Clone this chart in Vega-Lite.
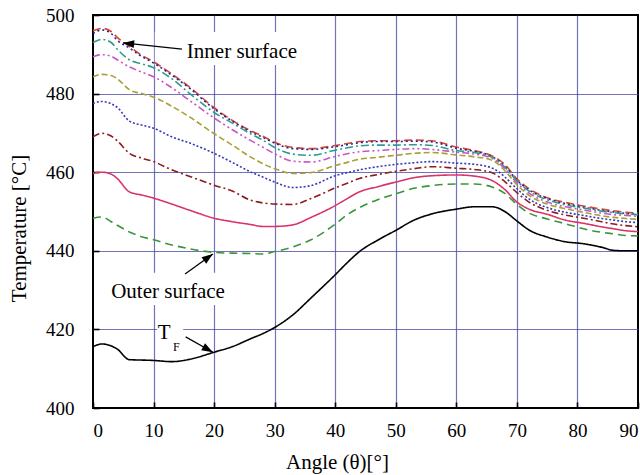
{
  "$schema": "https://vega.github.io/schema/vega-lite/v6.json",
  "width": 545,
  "height": 393,
  "autosize": {"type": "none"},
  "padding": {"left": 93, "top": 15, "right": 2, "bottom": 67},
  "background": "white",
  "config": {
    "view": {"stroke": "black", "strokeWidth": 2},
    "font": "Liberation Serif, Times New Roman, serif",
    "axis": {
      "labelFont": "Liberation Serif, Times New Roman, serif",
      "titleFont": "Liberation Serif, Times New Roman, serif",
      "labelFontSize": 19,
      "titleFontSize": 21,
      "labelColor": "black",
      "titleColor": "black",
      "titleFontWeight": "normal",
      "domain": false,
      "gridColor": "#4444a4",
      "gridWidth": 1.2
    }
  },
  "datasets": {
    "w": [
      {"x":0,"a":496.0,"b":495.3,"c":493.0,"d":489.4,"e":484.3,"f":477.5,"g":469.0,"h":459.7,"i":448.3,"j":415.6},
      {"x":1.5,"a":496.6,"b":496.2,"c":493.8,"d":489.9,"e":484.9,"f":478.0,"g":469.9,"h":460.0,"i":448.6,"j":416.3},
      {"x":3,"a":495.8,"b":495.3,"c":493.0,"d":489.5,"e":484.6,"f":477.4,"g":469.2,"h":459.5,"i":447.4,"j":415.8},
      {"x":4,"a":494.3,"b":493.6,"c":491.3,"d":488.6,"e":483.8,"f":476.5,"g":468.0,"h":458.4,"i":446.5,"j":415.0},
      {"x":6,"a":492.0,"b":491.6,"c":488.6,"d":486.8,"e":481.0,"f":473.0,"g":464.8,"h":455.0,"i":444.8,"j":412.3},
      {"x":8,"a":489.8,"b":489.5,"c":487.6,"d":485.5,"e":480.0,"f":472.0,"g":463.6,"h":454.2,"i":443.6,"j":412.2},
      {"x":10,"a":488.1,"b":487.8,"c":486.6,"d":484.3,"e":479.1,"f":471.2,"g":462.7,"h":453.4,"i":442.8,"j":412.1},
      {"x":13,"a":485.0,"b":484.7,"c":483.8,"d":481.5,"e":476.8,"f":469.0,"g":460.6,"h":451.9,"i":441.5,"j":411.8},
      {"x":16,"a":481.6,"b":481.3,"c":480.0,"d":478.2,"e":474.0,"f":467.4,"g":458.9,"h":450.3,"i":440.5,"j":412.4},
      {"x":20,"a":476.4,"b":476.1,"c":475.2,"d":473.8,"e":469.8,"f":464.8,"g":456.7,"h":448.3,"i":439.6,"j":414.2},
      {"x":23,"a":473.2,"b":473.0,"c":472.5,"d":470.8,"e":466.9,"f":462.5,"g":455.2,"h":447.4,"i":439.4,"j":415.6},
      {"x":26,"a":470.6,"b":470.3,"c":469.8,"d":468.1,"e":463.9,"f":460.1,"g":452.9,"h":446.7,"i":439.3,"j":417.6},
      {"x":28,"a":469.2,"b":468.9,"c":468.2,"d":466.4,"e":462.2,"f":458.8,"g":452.2,"h":446.2,"i":439.2,"j":418.9},
      {"x":30,"a":467.6,"b":467.4,"c":466.3,"d":464.7,"e":460.9,"f":457.5,"g":451.9,"h":446.2,"i":439.8,"j":420.5},
      {"x":33,"a":466.3,"b":466.0,"c":464.6,"d":462.8,"e":459.7,"f":456.1,"g":451.8,"h":446.6,"i":441.0,"j":423.7},
      {"x":36,"a":466.0,"b":465.8,"c":464.3,"d":462.6,"e":459.9,"f":456.6,"g":453.3,"h":448.5,"i":442.8,"j":428.0},
      {"x":40,"a":466.8,"b":466.5,"c":465.6,"d":464.0,"e":461.7,"f":459.1,"g":456.0,"h":451.5,"i":446.8,"j":433.9},
      {"x":42,"a":467.3,"b":467.0,"c":466.2,"d":464.7,"e":462.5,"f":459.9,"g":457.2,"h":453.3,"i":449.2,"j":437.0},
      {"x":44,"a":467.8,"b":467.5,"c":466.7,"d":465.2,"e":463.3,"f":460.6,"g":458.4,"h":455.0,"i":451.0,"j":439.8},
      {"x":47,"a":468.0,"b":467.8,"c":466.9,"d":465.5,"e":463.8,"f":461.4,"g":459.4,"h":456.3,"i":453.0,"j":442.7},
      {"x":50,"a":468.0,"b":467.8,"c":466.9,"d":465.8,"e":464.3,"f":462.0,"g":460.2,"h":457.5,"i":454.5,"j":445.2},
      {"x":53,"a":468.2,"b":467.9,"c":467.0,"d":466.0,"e":464.8,"f":462.4,"g":460.9,"h":458.6,"i":455.9,"j":447.8},
      {"x":56,"a":468.0,"b":467.7,"c":466.8,"d":465.8,"e":465.0,"f":462.7,"g":461.4,"h":459.1,"i":456.6,"j":449.4},
      {"x":60,"a":466.4,"b":466.1,"c":465.5,"d":465.1,"e":464.4,"f":462.3,"g":461.0,"h":459.3,"i":457.0,"j":450.6},
      {"x":63,"a":465.5,"b":465.3,"c":465.0,"d":464.6,"e":463.9,"f":462.0,"g":460.7,"h":459.0,"i":457.0,"j":451.2},
      {"x":66,"a":464.1,"b":463.9,"c":463.7,"d":463.5,"e":463.0,"f":461.0,"g":459.8,"h":457.8,"i":456.2,"j":451.2},
      {"x":68,"a":462.0,"b":461.6,"c":461.3,"d":460.9,"e":460.4,"f":458.8,"g":457.6,"h":455.6,"i":454.6,"j":450.0},
      {"x":70,"a":458.3,"b":458.0,"c":457.8,"d":457.3,"e":456.8,"f":455.8,"g":454.8,"h":452.4,"i":451.8,"j":447.6},
      {"x":72,"a":455.8,"b":455.5,"c":455.2,"d":454.7,"e":454.1,"f":453.2,"g":452.4,"h":450.6,"i":449.6,"j":445.3},
      {"x":75,"a":453.5,"b":453.3,"c":453.0,"d":452.4,"e":451.9,"f":451.0,"g":450.3,"h":449.3,"i":448.1,"j":443.5},
      {"x":78,"a":452.3,"b":452.0,"c":451.7,"d":451.2,"e":450.7,"f":449.8,"g":449.1,"h":447.8,"i":446.9,"j":442.3},
      {"x":81,"a":451.4,"b":451.1,"c":450.9,"d":450.4,"e":449.8,"f":449.0,"g":448.3,"h":447.0,"i":445.6,"j":441.8},
      {"x":84,"a":450.6,"b":450.3,"c":450.1,"d":449.6,"e":448.9,"f":448.2,"g":447.4,"h":446.1,"i":444.7,"j":440.9},
      {"x":86,"a":450.2,"b":449.9,"c":449.7,"d":449.2,"e":448.5,"f":447.8,"g":446.8,"h":445.6,"i":444.3,"j":440.1},
      {"x":88,"a":449.8,"b":449.5,"c":449.4,"d":449.0,"e":448.2,"f":447.4,"g":446.4,"h":445.1,"i":443.9,"j":440.0},
      {"x":90,"a":449.6,"b":449.3,"c":449.2,"d":448.8,"e":448.0,"f":447.2,"g":446.1,"h":444.9,"i":443.8,"j":440.0}
    ],
    "box": [
      {"x1": 10.2, "x2": 37.8, "y1": 487.3, "y2": 495.7},
      {"x1": 2.3, "x2": 26.4, "y1": 426.2, "y2": 434.4},
      {"x1": 10.6, "x2": 14.9, "y1": 416.5, "y2": 421.5}
    ],
    "arr": [
      {"x1": 14.7, "y1": 491.3, "x2": 4.95, "y2": 492.9},
      {"x1": 15.2, "y1": 434.1, "x2": 19.8, "y2": 439.2},
      {"x1": 15.3, "y1": 418.1, "x2": 19.8, "y2": 414.2}
    ],
    "lab": [
      {"x": 15.5, "y": 490.6, "txt": "Inner surface"},
      {"x": 3.0, "y": 429.5, "txt": "Outer surface"}
    ]
  },
  "layer": [
    {
      "data": {"name": "box"},
      "mark": {"type": "rect", "fill": "white", "stroke": null},
      "encoding": {
        "x": {"field": "x1", "type": "quantitative", "scale": {"domain": [0, 90], "nice": false},
          "axis": {"orient": "bottom", "values": [0,5,10,15,20,25,30,35,40,45,50,55,60,65,70,75,80,85,90],
            "labelExpr": "datum.value % 10 === 0 ? datum.label : ''",
            "ticks": true, "tickSize": -6, "tickColor": "black", "tickWidth": 1.6,
            "labelPadding": 19,
            "grid": true,
            "gridOpacity": {"condition": {"test": "datum.value % 10 === 0 && datum.value > 0 && datum.value < 90", "value": 0.75}, "value": 0},
            "title": "Angle (θ)[°]", "titleX": 244, "titleY": 60, "titleBaseline": "alphabetic", "titleAlign": "center"}},
        "x2": {"field": "x2"},
        "y": {"field": "y1", "type": "quantitative", "scale": {"domain": [400, 500], "nice": false},
          "axis": {"orient": "left", "values": [400,405,410,415,420,425,430,435,440,445,450,455,460,465,470,475,480,485,490,495,500],
            "labelExpr": "datum.value % 10 === 0 ? datum.label : ''",
            "ticks": true, "tickSize": -6, "tickColor": "black", "tickWidth": 1.6,
            "labelPadding": 25,
            "grid": true,
            "gridOpacity": {"condition": {"test": "datum.value % 10 === 0 && datum.value > 400 && datum.value < 500", "value": 0.75}, "value": 0},
            "title": "Temperature [°C]", "titleX": -68, "titleY": 213, "titleBaseline": "alphabetic", "titleAlign": "center", "titleAngle": 270}},
        "y2": {"field": "y2"}
      }
    },
    {
      "data": {"name": "w"},
      "transform": [{"fold": ["a","b","c","d","e","f","g","h","i","j"], "as": ["s", "t"]}],
      "mark": {"type": "line", "interpolate": "monotone", "strokeWidth": 1.6},
      "encoding": {
        "x": {"field": "x", "type": "quantitative", "scale": {"domain": [0, 90], "nice": false}},
        "y": {"field": "t", "type": "quantitative", "scale": {"domain": [400, 500], "nice": false}},
        "color": {"field": "s", "type": "nominal", "legend": null,
          "scale": {"domain": ["a","b","c","d","e","f","g","h","i","j"],
            "range": ["#d94a2b", "#22229a", "#2e9a8c", "#c855c8", "#a8a032", "#3838b8", "#8c1d1d", "#d93468", "#3a963a", "#000000"]}},
        "strokeDash": {"field": "s", "type": "nominal", "legend": null,
          "scale": {"domain": ["a","b","c","d","e","f","g","h","i","j"],
            "range": [[8,4], [2,3], [8,3,2,3], [7,3,2,3,2,3], [6,3], [2,2], [7,3,2,3], [1,0], [8,5], [1,0]]}},
        "order": {"field": "x", "type": "quantitative"}
      }
    },
    {
      "data": {"name": "arr"},
      "mark": {"type": "rule", "color": "black", "strokeWidth": 1.2},
      "encoding": {
        "x": {"field": "x1", "type": "quantitative", "scale": {"domain": [0, 90], "nice": false}},
        "y": {"field": "y1", "type": "quantitative", "scale": {"domain": [400, 500], "nice": false}},
        "x2": {"field": "x2"},
        "y2": {"field": "y2"}
      }
    },
    {
      "data": {"values": [{"x": 4.95, "y": 492.9}]},
      "mark": {"type": "point", "shape": "M0,0L-0.35,1L0.35,1Z", "filled": true, "color": "black", "opacity": 1, "size": 500, "angle": 276},
      "encoding": {
        "x": {"field": "x", "type": "quantitative", "scale": {"domain": [0, 90], "nice": false}},
        "y": {"field": "y", "type": "quantitative", "scale": {"domain": [400, 500], "nice": false}}
      }
    },
    {
      "data": {"values": [{"x": 19.8, "y": 439.2}]},
      "mark": {"type": "point", "shape": "M0,0L-0.35,1L0.35,1Z", "filled": true, "color": "black", "opacity": 1, "size": 500, "angle": 54},
      "encoding": {
        "x": {"field": "x", "type": "quantitative", "scale": {"domain": [0, 90], "nice": false}},
        "y": {"field": "y", "type": "quantitative", "scale": {"domain": [400, 500], "nice": false}}
      }
    },
    {
      "data": {"values": [{"x": 19.8, "y": 414.2}]},
      "mark": {"type": "point", "shape": "M0,0L-0.35,1L0.35,1Z", "filled": true, "color": "black", "opacity": 1, "size": 500, "angle": 119},
      "encoding": {
        "x": {"field": "x", "type": "quantitative", "scale": {"domain": [0, 90], "nice": false}},
        "y": {"field": "y", "type": "quantitative", "scale": {"domain": [400, 500], "nice": false}}
      }
    },
    {
      "data": {"name": "lab"},
      "mark": {"type": "text", "align": "left", "baseline": "middle", "font": "Liberation Serif, Times New Roman, serif", "fontSize": 21, "color": "black"},
      "encoding": {
        "x": {"field": "x", "type": "quantitative", "scale": {"domain": [0, 90], "nice": false}},
        "y": {"field": "y", "type": "quantitative", "scale": {"domain": [400, 500], "nice": false}},
        "text": {"field": "txt"}
      }
    },
    {
      "data": {"values": [{"x": 10.7, "y": 419.0, "txt": "T"}]},
      "mark": {"type": "text", "align": "left", "baseline": "middle", "font": "Liberation Serif, Times New Roman, serif", "fontSize": 21, "color": "black"},
      "encoding": {
        "x": {"field": "x", "type": "quantitative", "scale": {"domain": [0, 90], "nice": false}},
        "y": {"field": "y", "type": "quantitative", "scale": {"domain": [400, 500], "nice": false}},
        "text": {"field": "txt"}
      }
    },
    {
      "data": {"values": [{"x": 13.2, "y": 415.6, "txt": "F"}]},
      "mark": {"type": "text", "align": "left", "baseline": "middle", "font": "Liberation Serif, Times New Roman, serif", "fontSize": 12, "color": "black"},
      "encoding": {
        "x": {"field": "x", "type": "quantitative", "scale": {"domain": [0, 90], "nice": false}},
        "y": {"field": "y", "type": "quantitative", "scale": {"domain": [400, 500], "nice": false}},
        "text": {"field": "txt"}
      }
    }
  ]
}
